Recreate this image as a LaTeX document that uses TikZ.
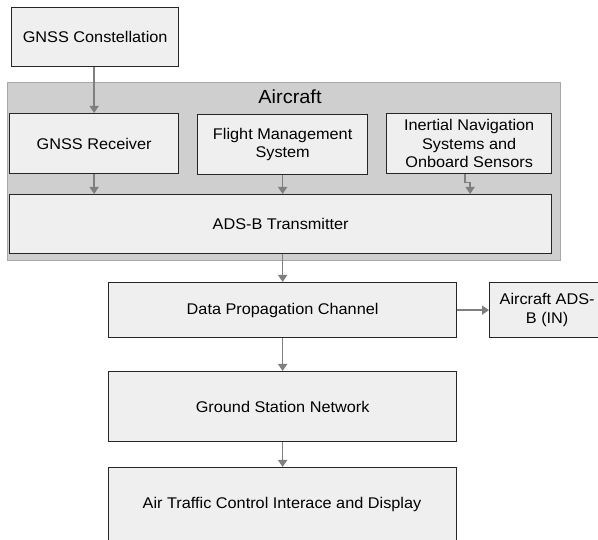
\documentclass[tikz,border=0pt]{standalone}
\usepackage{fontspec}
\setmainfont{Liberation Sans}[FakeStretch=1.05]
\usetikzlibrary{arrows.meta}
\definecolor{boxfill}{HTML}{EFEFEF}
\definecolor{groupfill}{HTML}{CFCFCF}
\definecolor{groupline}{HTML}{A8A8A8}
\definecolor{arrowgray}{HTML}{7F7F7F}
\begin{document}
\begin{tikzpicture}[x=1pt,y=-1pt,
  blk/.style={draw=black!85, line width=1.3pt, fill=boxfill, inner sep=0pt, align=center,
    font=\fontsize{15.5}{18.5}\selectfont},
  flow/.style={draw=arrowgray, line width=1.4pt, -{Triangle[length=7pt,width=9pt]}}]
\useasboundingbox (0,0) rectangle (598,540);
\fill[white] (0,0) rectangle (598,540);
\begin{scope}
\clip (0,0) rectangle (598,540);
% Aircraft group
\node[draw=groupline, line width=1.2pt, fill=groupfill, minimum width=553pt, minimum height=178pt, anchor=north west, inner sep=0pt] (grp) at (7,82) {};
\node[font=\fontsize{19}{22}\selectfont] (grplbl) at (290,97) {Aircraft};
% boxes
\node[blk, minimum width=167pt, minimum height=59pt, anchor=north west] (const) at (11,7) {GNSS Constellation};
\node[blk, minimum width=169pt, minimum height=60pt, anchor=north west] (rcv) at (9,113) {GNSS Receiver};
\node[blk, minimum width=170pt, minimum height=60pt, anchor=north west] (fms) at (197,114) {Flight Management\\System};
\node[blk, minimum width=165pt, minimum height=60pt, anchor=north west] (ins) at (386,113) {Inertial Navigation\\Systems and\\Onboard Sensors};
\node[blk, minimum width=542pt, minimum height=59pt, anchor=north west] (tx) at (9,194) {ADS-B Transmitter};
\node[blk, minimum width=348pt, minimum height=55pt, anchor=north west] (dpc) at (108,282) {Data Propagation Channel};
\node[blk, minimum width=115pt, minimum height=55pt, anchor=north west] (adsin) at (489,282) {Aircraft ADS-\\B (IN)};
\node[blk, minimum width=348pt, minimum height=70pt, anchor=north west] (gsn) at (108,371) {Ground Station Network};
\node[blk, minimum width=348pt, minimum height=80pt, anchor=north west] (atc) at (108,467) {};
\node[font=\fontsize{15.5}{18.5}\selectfont] (atclbl) at (282,504) {Air Traffic Control Interace and Display};
% arrows
\draw[flow] (const.south -| rcv.north) -- (rcv.north);
\draw[flow] (rcv.south) -- (rcv.south |- tx.north);
\draw[flow] (fms.south) -- (fms.south |- tx.north);
\draw[flow] ([xshift=-4pt]ins.south) -- ++(0,8) -| ([xshift=1pt]ins.south |- tx.north);
\draw[flow] (dpc.north |- tx.south) -- (dpc.north);
\draw[flow] (dpc.east) -- (adsin.west);
\draw[flow] (dpc.south) -- (gsn.north);
\draw[flow] (gsn.south) -- (atc.north);
\end{scope}
\end{tikzpicture}
\end{document}
